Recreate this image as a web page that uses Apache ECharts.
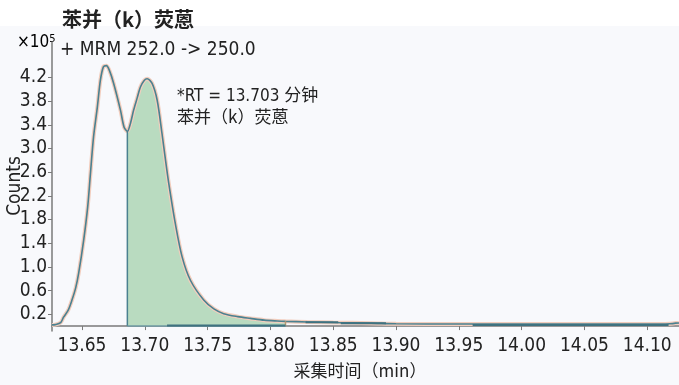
<!DOCTYPE html>
<html>
<head>
<meta charset="utf-8">
<script src="https://cdn.jsdelivr.net/npm/echarts@6/dist/echarts.min.js"></script>
<style>
  html, body { margin: 0; padding: 0; background: #ffffff; }
  #chart { width: 679px; height: 385px; }
</style>
</head>
<body>
<div id="chart"></div>
<script>
// Acquisition time (min) and detector response (counts ×10^5) of the MRM trace
const timeMin = [
  13.6261, 13.6287, 13.6330, 13.6353, 13.6390, 13.6420, 13.6450, 13.6473,
  13.6513, 13.6545, 13.6566, 13.6592, 13.6622, 13.6646, 13.6670, 13.6694,
  13.6718, 13.6752, 13.6806, 13.6835, 13.6861, 13.6885, 13.6911, 13.6940,
  13.6965, 13.6995, 13.7018, 13.7058, 13.7098, 13.7137, 13.7165, 13.7190,
  13.7243, 13.7297, 13.7364, 13.7469, 13.7550, 13.7628, 13.7740, 13.7841,
  13.7950, 13.8054, 13.8120, 13.8293, 13.8500, 13.8800, 13.9000, 13.9500,
  14.0000, 14.0500, 14.1000, 14.1180, 14.1253
];
const counts = [
  0.02, 0.025, 0.06, 0.15, 0.27, 0.44, 0.65, 0.89,
  1.45, 2.01, 2.55, 3.20, 3.70, 4.15, 4.38, 4.40,
  4.32, 4.10, 3.65, 3.36, 3.29, 3.42, 3.65, 3.86,
  4.04, 4.15, 4.18, 4.10, 3.82, 3.25, 2.80, 2.42,
  1.73, 1.17, 0.77, 0.44, 0.29, 0.21, 0.16, 0.13,
  0.10, 0.086, 0.08, 0.07, 0.06, 0.05, 0.04, 0.035,
  0.035, 0.035, 0.035, 0.04, 0.055
];

// Integrated peak window (min) and its baseline level
const peakStart = 13.6861;
const peakEnd = 13.8120;
const peakBaseline = 0;

// Baselines of the other integration segments: [start, end, level]
const otherBaselines = [
  [13.7177, 13.8120, 0.01],
  [13.8280, 13.8540, 0.065],
  [13.8560, 13.8920, 0.048],
  [13.9610, 14.1170, 0.02]
];

// Axis tick labels
const xTicks = [13.65, 13.70, 13.75, 13.80, 13.85, 13.90, 13.95, 14.00, 14.05, 14.10];
const yTicks = [0.2, 0.6, 1.0, 1.4, 1.8, 2.2, 2.6, 3.0, 3.4, 3.8, 4.2];

const titleText = '苯并（k）荧蒽';
const transitionText = '+ MRM 252.0 -> 250.0';
const rtText = '*RT = 13.703 分钟';
const compoundText = '苯并（k）荧蒽';
const xName = '采集时间（min）';
const yName = 'Counts';

const FONT = "'Liberation Sans Narrow', 'DejaVu Sans Condensed', 'Noto Sans CJK SC', sans-serif";
const CJK = "'Noto Sans CJK SC', 'Liberation Sans Narrow', sans-serif";
const SMOOTH = 0.3;

const trace = timeMin.map((t, i) => [t, counts[i]]);
const peakPts = trace.filter(p => p[0] >= peakStart && p[0] <= peakEnd);
const startVal = peakPts[0][1];
const endVal = peakPts[peakPts.length - 1][1];

const chart = echarts.init(document.getElementById('chart'), null, { renderer: 'canvas' });

const baseSeries = otherBaselines.map(b => ({
  type: 'line', symbol: 'none', silent: true, z: 5,
  data: [[b[0], b[2]], [b[1], b[2]]],
  lineStyle: { color: '#3f7280', width: 2 }
}));

chart.setOption({
  animation: false,
  backgroundColor: '#ffffff',
  grid: { left: 52, right: 0, top: 42, bottom: 54, containLabel: false },
  xAxis: {
    type: 'value', min: 13.6261, max: 14.1253,
    axisLine: { show: true, lineStyle: { color: '#7a7a7a', width: 1.5 } },
    axisTick: { show: true, length: 4, customValues: xTicks, lineStyle: { color: '#7a7a7a' } },
    axisLabel: {
      customValues: xTicks, margin: 6, color: '#222',
      fontFamily: FONT, fontSize: 19,
      formatter: v => v.toFixed(2)
    },
    splitLine: { show: false }
  },
  yAxis: {
    type: 'value', min: -0.083, max: 4.80,
    axisLine: { show: true, lineStyle: { color: '#7a7a7a', width: 1.5 } },
    axisTick: { show: true, length: 4, customValues: yTicks, lineStyle: { color: '#7a7a7a' } },
    axisLabel: {
      customValues: yTicks, margin: 5, color: '#222',
      fontFamily: FONT, fontSize: 19,
      formatter: v => v.toFixed(1)
    },
    splitLine: { show: false }
  },
  graphic: [
    { type: 'rect', z: -10, silent: true,
      shape: { x: 0, y: 26, width: 679, height: 359 },
      style: { fill: '#f8f9fc' } },
    { type: 'text', x: 62, y: 19,
      style: { text: titleText, font: "bold 20px " + CJK, fill: '#222', textVerticalAlign: 'middle' } },
    { type: 'text', x: 17, y: 43,
      style: {
        text: '{a|×10}{s|5}', textVerticalAlign: 'middle',
        rich: {
          a: { fontFamily: FONT, fontSize: 17, color: '#222' },
          s: { fontFamily: FONT, fontSize: 11, color: '#222', verticalAlign: 'top', padding: [0, 0, 8, 0] }
        }
      } },
    { type: 'text', x: 60, y: 50,
      style: { text: transitionText, font: "19px " + FONT, fill: '#222', textVerticalAlign: 'middle' } },
    { type: 'text', x: 177, y: 97,
      style: { text: rtText, font: "17px " + FONT, fill: '#222', textVerticalAlign: 'middle' } },
    { type: 'text', x: 177, y: 117,
      style: { text: compoundText, font: "17px " + CJK, fill: '#222', textVerticalAlign: 'middle' } },
    { type: 'text', x: 15, y: 186, rotation: Math.PI / 2,
      style: { text: yName, font: "19px " + FONT, fill: '#222', textAlign: 'center', textVerticalAlign: 'middle' } },
    { type: 'text', x: 360, y: 371,
      style: { text: xName, font: "17px " + CJK, fill: '#222', textAlign: 'center', textVerticalAlign: 'middle' } }
  ],
  series: [
    // integrated peak area
    { type: 'line', symbol: 'none', silent: true, z: 1, smooth: SMOOTH,
      data: peakPts,
      lineStyle: { width: 0 },
      areaStyle: { color: '#b9dbc0', opacity: 1, origin: peakBaseline } },
    // soft halo under the trace
    { type: 'line', symbol: 'none', silent: true, z: 2, smooth: SMOOTH,
      data: trace,
      lineStyle: { color: '#f2cdbd', width: 4 } },
    // chromatogram trace
    { type: 'line', symbol: 'none', silent: true, z: 3, smooth: SMOOTH,
      data: trace,
      lineStyle: { color: '#4b8190', width: 1.6 } },
    // peak start drop line
    { type: 'line', symbol: 'none', silent: true, z: 4,
      data: [[peakStart, peakBaseline], [peakStart, startVal]],
      lineStyle: { color: '#4b8190', width: 1.5 } },
    // peak end drop line
    { type: 'line', symbol: 'none', silent: true, z: 4,
      data: [[peakEnd, peakBaseline], [peakEnd, endVal]],
      lineStyle: { color: '#b89a72', width: 1.5 } },
    // peak baseline
    { type: 'line', symbol: 'none', silent: true, z: 4,
      data: [[peakStart, peakBaseline], [peakEnd, peakBaseline]],
      lineStyle: { color: '#6f9aa3', width: 1.5 } },
    ...baseSeries
  ]
});
</script>
</body>
</html>
